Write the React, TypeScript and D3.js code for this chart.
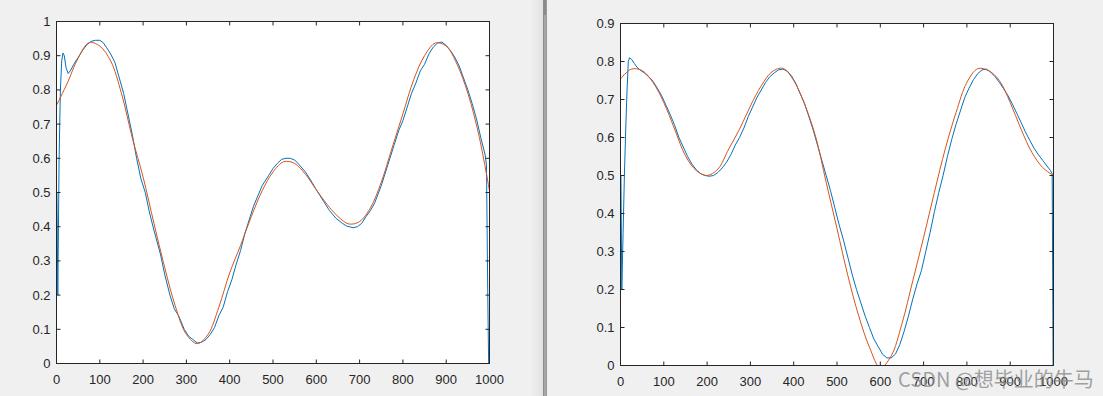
import React from "react";
import * as d3 from "d3";

// x positions where the fitted (orange) curves were read, every 25 samples
const fitX = d3.range(0, 1001, 25);

const leftFitY = [
  0.755, 0.82, 0.893, 0.938, 0.928, 0.885, 0.79, 0.66, 0.545, 0.41, 0.28,
  0.165, 0.085, 0.058, 0.085, 0.165, 0.265, 0.345, 0.43, 0.505, 0.56, 0.59,
  0.585, 0.553, 0.508, 0.465, 0.43, 0.408, 0.415, 0.455, 0.53, 0.63, 0.73,
  0.83, 0.9, 0.937, 0.928, 0.875, 0.79, 0.67, 0.505,
];

const rightFitY = [
  0.754, 0.78, 0.776, 0.745, 0.692, 0.622, 0.552, 0.513, 0.5, 0.517, 0.57,
  0.622, 0.683, 0.736, 0.773, 0.782, 0.75, 0.688, 0.605, 0.482, 0.36, 0.237,
  0.131, 0.048, -0.006, 0.025, 0.11, 0.223, 0.337, 0.456, 0.57, 0.666, 0.745,
  0.781, 0.776, 0.75, 0.692, 0.622, 0.561, 0.521, 0.5,
];

// raw (blue) signals
const leftRawX = [
  1, 3, 6, 9, 12, 15, 18, 22, 27, 33, 40, 50, 60, 70, 80, 90, 100, 108, 115,
  125, 135, 145, 155, 165, 175, 185, 195, 205, 215, 225, 240, 250, 262, 272,
  282, 295, 305, 315, 325, 335, 345, 355, 365, 375, 385, 395, 405, 415, 425,
  435, 445, 455, 465, 475, 490, 500, 510, 520, 530, 540, 550, 560, 575, 590,
  600, 615, 630, 645, 660, 670, 685, 695, 705, 715, 725, 735, 750, 760, 770,
  780, 790, 800, 810, 820, 830, 840, 850, 860, 870, 880, 890, 900, 910, 920,
  930, 940, 950, 960, 970, 980, 990, 993, 996, 998,
];
const leftRawY = [
  0.5, 0.2, 0.6, 0.8, 0.885, 0.908, 0.9, 0.865, 0.848, 0.858, 0.875, 0.895,
  0.915, 0.932, 0.942, 0.945, 0.945, 0.938, 0.925, 0.905, 0.88, 0.835, 0.79,
  0.73, 0.67, 0.6, 0.54, 0.5, 0.44, 0.39, 0.32, 0.26, 0.2, 0.16, 0.14, 0.1,
  0.08, 0.07, 0.06, 0.062, 0.07, 0.085, 0.105, 0.14, 0.165, 0.21, 0.245, 0.29,
  0.33, 0.38, 0.42, 0.46, 0.49, 0.52, 0.55, 0.57, 0.585, 0.597, 0.6, 0.6,
  0.595, 0.582, 0.56, 0.53, 0.508, 0.478, 0.448, 0.425, 0.41, 0.402, 0.397,
  0.4, 0.41, 0.43, 0.447, 0.47, 0.52, 0.56, 0.6, 0.64, 0.68, 0.71, 0.75, 0.79,
  0.82, 0.855, 0.875, 0.905, 0.925, 0.937, 0.94, 0.93, 0.915, 0.895, 0.87,
  0.835, 0.8, 0.76, 0.715, 0.66, 0.61, 0.58, 0.2, 0,
];

const rightRawX = [
  1, 3, 6, 9, 12, 15, 18, 21, 26, 32, 38, 45, 55, 65, 75, 85, 95, 105, 115,
  125, 135, 145, 155, 165, 175, 185, 195, 205, 215, 225, 235, 245, 255, 265,
  275, 285, 295, 305, 315, 325, 335, 345, 355, 365, 375, 385, 395, 405, 415,
  425, 435, 445, 455, 465, 475, 485, 495, 505, 515, 525, 535, 545, 555, 565,
  575, 585, 595, 605, 615, 625, 635, 645, 655, 665, 675, 685, 695, 705, 715,
  725, 735, 745, 755, 765, 775, 785, 795, 805, 815, 825, 835, 845, 855, 865,
  875, 885, 895, 905, 915, 925, 935, 945, 955, 965, 975, 985, 993, 997, 999,
];
const rightRawY = [
  0.5, 0.2, 0.35, 0.5, 0.62, 0.72, 0.8, 0.81, 0.805, 0.795, 0.785, 0.778,
  0.77, 0.76, 0.748, 0.73, 0.71, 0.685, 0.66, 0.632, 0.6, 0.575, 0.55, 0.53,
  0.515, 0.505, 0.5, 0.498, 0.5, 0.508, 0.52, 0.535, 0.555, 0.58, 0.6, 0.625,
  0.655, 0.68, 0.705, 0.725, 0.745, 0.76, 0.77, 0.778, 0.78, 0.775, 0.762,
  0.742, 0.715, 0.69, 0.655, 0.62, 0.58, 0.54, 0.5, 0.46, 0.415, 0.37, 0.33,
  0.285, 0.24, 0.2, 0.165, 0.13, 0.1, 0.07, 0.05, 0.03, 0.02, 0.02, 0.03,
  0.055, 0.09, 0.13, 0.175, 0.215, 0.25, 0.3, 0.35, 0.405, 0.455, 0.5, 0.55,
  0.595, 0.635, 0.67, 0.705, 0.73, 0.752, 0.768, 0.778, 0.78, 0.772, 0.76,
  0.745, 0.728, 0.71, 0.688, 0.664, 0.64, 0.615, 0.593, 0.572, 0.555, 0.54,
  0.525, 0.513, 0.505, 0,
];

const xTicks = [0, 100, 200, 300, 400, 500, 600, 700, 800, 900, 1000];
const xTickLabels = ["0", "100", "200", "300", "400", "500", "600", "700", "800", "900", "1000"];
const leftYTicks = [0, 0.1, 0.2, 0.3, 0.4, 0.5, 0.6, 0.7, 0.8, 0.9, 1];
const leftYLabels = ["0", "0.1", "0.2", "0.3", "0.4", "0.5", "0.6", "0.7", "0.8", "0.9", "1"];
const rightYTicks = [0, 0.1, 0.2, 0.3, 0.4, 0.5, 0.6, 0.7, 0.8, 0.9];
const rightYLabels = ["0", "0.1", "0.2", "0.3", "0.4", "0.5", "0.6", "0.7", "0.8", "0.9"];

const BLUE = "#0072BD";
const ORANGE = "#D95319";
const AXIS = "#262626";
const FONT = "'Liberation Sans', Arial, Helvetica, sans-serif";

type Pt = [number, number];

function Panel(props: {
  id: string;
  x0: number;
  y0: number;
  x1: number;
  y1: number;
  yMax: number;
  yTicks: number[];
  yLabels: string[];
  raw: Pt[];
  fit: Pt[];
}) {
  const { id, x0, y0, x1, y1, yMax, yTicks, yLabels, raw, fit } = props;
  const x = d3.scaleLinear().domain([0, 1000]).range([x0, x1]);
  const y = d3.scaleLinear().domain([0, yMax]).range([y1, y0]);

  const rawLine = d3
    .line<Pt>()
    .x((d) => x(d[0]))
    .y((d) => y(d[1]));
  const fitLine = d3
    .line<Pt>()
    .x((d) => x(d[0]))
    .y((d) => y(d[1]))
    .curve(d3.curveCatmullRom);

  const tk = 4;

  return (
    <g>
      <defs>
        <clipPath id={id}>
          <rect x={x0} y={y0} width={x1 - x0} height={y1 - y0} />
        </clipPath>
      </defs>
      <rect x={x0} y={y0} width={x1 - x0} height={y1 - y0} fill="#ffffff" />
      <g clipPath={`url(#${id})`} fill="none">
        <path d={rawLine(raw) || ""} stroke={BLUE} strokeWidth={1} />
        <path d={fitLine(fit) || ""} stroke={ORANGE} strokeWidth={1} />
      </g>
      <rect
        x={x0}
        y={y0}
        width={x1 - x0}
        height={y1 - y0}
        fill="none"
        stroke={AXIS}
        strokeWidth={1}
      />
      {xTicks.map((t, i) => (
        <g key={"x" + t}>
          <line x1={x(t)} x2={x(t)} y1={y1} y2={y1 - tk} stroke={AXIS} />
          <line x1={x(t)} x2={x(t)} y1={y0} y2={y0 + tk} stroke={AXIS} />
          <text
            x={x(t)}
            y={y1 + 20}
            textAnchor="middle"
            fontSize={13}
            fontFamily={FONT}
            fill={AXIS}
          >
            {xTickLabels[i]}
          </text>
        </g>
      ))}
      {yTicks.map((t, i) => (
        <g key={"y" + t}>
          <line x1={x0} x2={x0 + tk} y1={y(t)} y2={y(t)} stroke={AXIS} />
          <line x1={x1} x2={x1 - tk} y1={y(t)} y2={y(t)} stroke={AXIS} />
          <text
            x={x0 - 6}
            y={y(t)}
            dy="0.35em"
            textAnchor="end"
            fontSize={13}
            fontFamily={FONT}
            fill={AXIS}
          >
            {yLabels[i]}
          </text>
        </g>
      ))}
    </g>
  );
}

export default function App() {
  const leftFit: Pt[] = fitX.map((v, i) => [v, leftFitY[i]]);
  const rightFit: Pt[] = fitX.map((v, i) => [v, rightFitY[i]]);
  const leftRaw: Pt[] = leftRawX.map((v, i) => [v, leftRawY[i]]);
  const rightRaw: Pt[] = rightRawX.map((v, i) => [v, rightRawY[i]]);

  return (
    <svg
      width={1103}
      height={396}
      style={{ position: "absolute", left: 0, top: 0, display: "block" }}
    >
      <defs>
        <linearGradient id="shade" x1="0" x2="1" y1="0" y2="0">
          <stop offset="0" stopColor="#f0f0f0" />
          <stop offset="1" stopColor="#e2e2e2" />
        </linearGradient>
      </defs>
      <rect width={1103} height={396} fill="#f0f0f0" />

      {/* window splitter between the two figures */}
      <rect x={530} y={0} width={13} height={396} fill="url(#shade)" />
      <rect x={543} y={0} width={4} height={396} fill="#a6a6a6" />
      <rect x={543} y={0} width={4} height={15} fill="#8a8a8a" />
      <line x1={543.5} x2={543.5} y1={0} y2={396} stroke="#8e8e8e" />
      <line x1={546.5} x2={546.5} y1={0} y2={396} stroke="#9a9a9a" />

      <Panel
        id="clipL"
        x0={56.5}
        y0={21.5}
        x1={489.5}
        y1={363.5}
        yMax={1}
        yTicks={leftYTicks}
        yLabels={leftYLabels}
        raw={leftRaw}
        fit={leftFit}
      />
      <Panel
        id="clipR"
        x0={620.5}
        y0={23.5}
        x1={1053.5}
        y1={365.5}
        yMax={0.9}
        yTicks={rightYTicks}
        yLabels={rightYLabels}
        raw={rightRaw}
        fit={rightFit}
      />

      {/* watermark, overlaps the last tick labels as in the reference */}
      <text
        x={898}
        y={387}
        fontSize={20}
        fontFamily="'Noto Sans CJK SC', 'Noto Sans', sans-serif"
        fill="#8a8a8a"
        fillOpacity={0.8}
      >
        CSDN @想毕业的牛马
      </text>
    </svg>
  );
}
